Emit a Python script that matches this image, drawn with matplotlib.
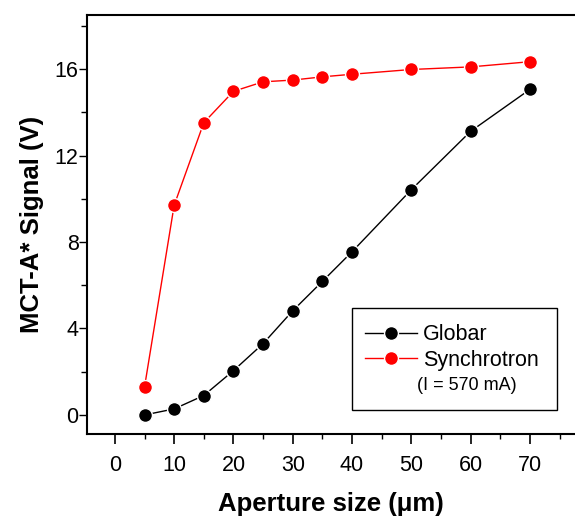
import numpy as np
import matplotlib
matplotlib.use("Agg")
import matplotlib.pyplot as plt
from matplotlib.lines import Line2D
from matplotlib.patches import Rectangle
from matplotlib.ticker import MultipleLocator

plt.rcParams['font.family'] = ['Liberation Sans', 'DejaVu Sans']

# aperture size (um)
aperture = [5, 10, 15, 20, 25, 30, 35, 40, 50, 60, 70]
# MCT-A* signal (V)
globar = [0.0, 0.28, 0.90, 2.05, 3.30, 4.82, 6.18, 7.55, 10.42, 13.12, 15.06]
synchrotron = [1.29, 9.70, 13.52, 14.97, 15.41, 15.49, 15.64, 15.76, 15.98, 16.10, 16.34]

fig = plt.figure(figsize=(5.75, 5.23), dpi=100)
ax = fig.add_axes([0.1513, 0.1702, 0.8487, 0.8011])

ax.plot(aperture, globar, color='black', lw=1.0, marker='o', ms=10,
        mec='white', mew=1.0, label='Globar')
ax.plot(aperture, synchrotron, color='red', lw=1.0, marker='o', ms=10,
        mec='white', mew=1.0, label='Synchrotron')

ax.set_xlim(-4.7, 77.6)
ax.set_ylim(-0.88, 18.5)
ax.xaxis.set_major_locator(MultipleLocator(10))
ax.xaxis.set_minor_locator(MultipleLocator(5))
ax.yaxis.set_major_locator(MultipleLocator(4))
ax.yaxis.set_minor_locator(MultipleLocator(2))

ax.spines['right'].set_visible(False)
for s in ['left', 'top', 'bottom']:
    ax.spines[s].set_linewidth(1.5)

ax.tick_params(axis='x', which='major', direction='out', length=7, width=1.2,
               labelsize=15.5, pad=8)
ax.tick_params(axis='x', which='minor', direction='out', length=3.6, width=1.0)
ax.tick_params(axis='y', which='major', direction='out', length=6, width=1.0,
               labelsize=15.5, pad=0)
ax.tick_params(axis='y', which='minor', direction='out', length=4.5, width=1.0)

ax.set_xlabel('Aperture size (\u03bcm)', fontsize=18.5, fontweight='bold', labelpad=12)
ax.set_ylabel('MCT-A* Signal (V)', fontsize=18.5, fontweight='bold', labelpad=8)

# legend box
box = Rectangle((0.5424, 0.0573), 0.4201, 0.2441, transform=ax.transAxes,
                facecolor='white', edgecolor='black', lw=1.0, zorder=4)
ax.add_patch(box)

h1, h2 = ax.get_legend_handles_labels()[0]
blank = Line2D([], [], linestyle='none')
leg = ax.legend([h1, h2, blank], ['Globar', 'Synchrotron', '(I = 570 mA)'],
                loc='upper left', bbox_to_anchor=(0.5697, 0.262), borderaxespad=0,
                fontsize=15.5, frameon=False, borderpad=0,
                handlelength=2.4, handletextpad=0.3, labelspacing=0.2)
leg.set_zorder(5)
leg.get_texts()[2].set_fontsize(13)
leg.get_texts()[2].set_x(-6)

fig.savefig('out.png', dpi=100)
